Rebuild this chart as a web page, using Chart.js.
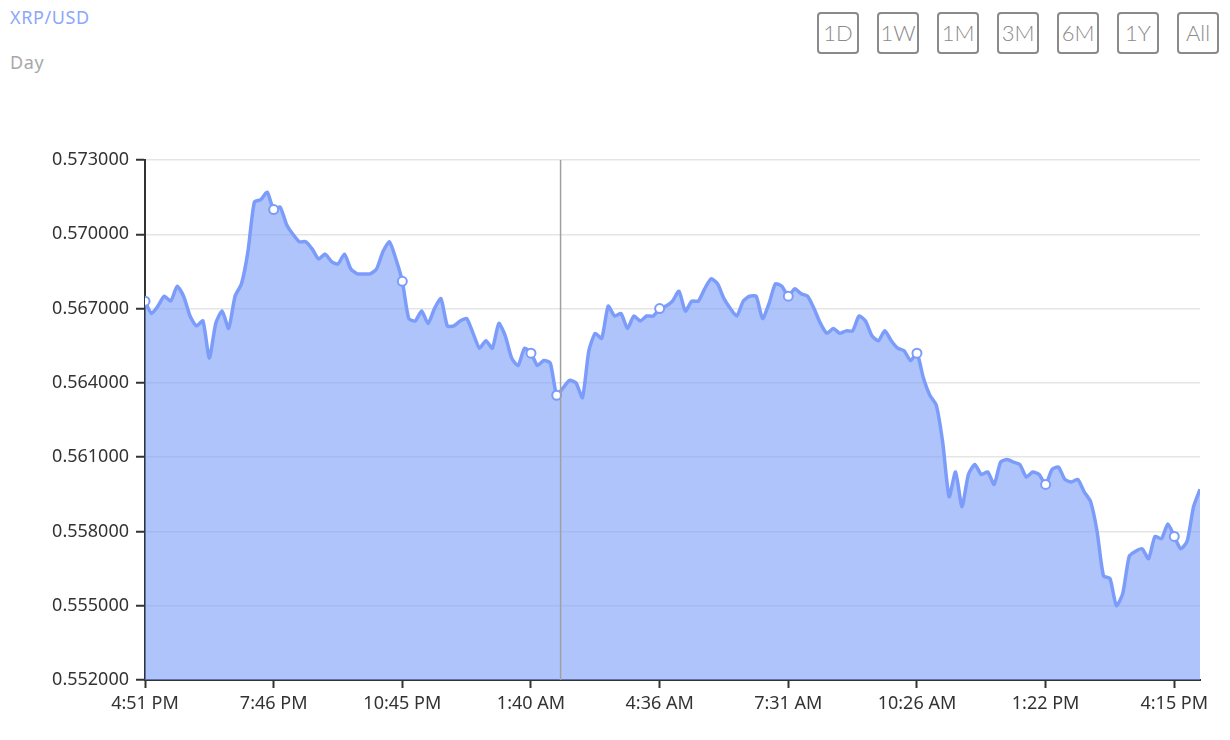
<!DOCTYPE html>
<html>
<head>
<meta charset="utf-8">
<script src="https://cdn.jsdelivr.net/npm/chart.js@4"></script>
<style>
  html, body { margin: 0; padding: 0; background: #fff; }
  body { width: 1230px; height: 740px; position: relative; overflow: hidden; font-family: "Noto Sans", "Open Sans", sans-serif; }
  #chart { position: absolute; left: 0; top: 0; }
  .pair { position: absolute; left: 10px; top: 5px; font-size: 18px; letter-spacing: 0.6px; color: #8ba7fa; }
  .range { position: absolute; left: 10px; top: 50px; font-size: 18px; letter-spacing: 0.6px; color: #a8a8a8; }
  .buttons { position: absolute; top: 12px; left: 817px; }
  .buttons span {
    position: absolute; top: 0; width: 38px; height: 38px;
    border: 2px solid #8a8a8a; border-radius: 4px;
    color: #8a8a8a; font-family: "Lato", "Open Sans", sans-serif; font-weight: 300;
    font-size: 22px; line-height: 38px; text-align: center;
  }
</style>
</head>
<body>
<div class="pair">XRP/USD</div>
<div class="range">Day</div>
<div class="buttons" id="buttons"></div>
<canvas id="chart" width="1230" height="740"></canvas>
<script>
// XRP/USD, one day, one reading every step
const prices = [
  0.5673, 0.5668, 0.5671, 0.5675, 0.5673, 0.5679, 0.5675, 0.5667, 0.5663, 0.5665,
  0.5650, 0.5664, 0.5669, 0.5662, 0.5675, 0.5680, 0.5693, 0.5713, 0.5714, 0.5717,
  0.5710, 0.5711, 0.5704, 0.5700, 0.5697, 0.5697, 0.5694, 0.5690, 0.5692, 0.5689,
  0.5688, 0.5692, 0.5686, 0.5684, 0.5684, 0.5684, 0.5686, 0.5693, 0.5697, 0.5690,
  0.5681, 0.5666, 0.5665, 0.5669, 0.5664, 0.5670, 0.5674, 0.5663, 0.5663, 0.5665,
  0.5666, 0.5660, 0.5654, 0.5657, 0.5654, 0.5664, 0.5659, 0.5650, 0.5647, 0.5654,
  0.5652, 0.5647, 0.5649, 0.5648, 0.5635, 0.5638, 0.5641, 0.5640, 0.5634, 0.5653,
  0.5660, 0.5658, 0.5671, 0.5667, 0.5668, 0.5662, 0.5667, 0.5665, 0.5667, 0.5667,
  0.5670, 0.5671, 0.5673, 0.5677, 0.5669, 0.5673, 0.5673, 0.5678, 0.5682, 0.5680,
  0.5674, 0.5670, 0.5667, 0.5673, 0.5675, 0.5675, 0.5666, 0.5672, 0.5680, 0.5679,
  0.5675, 0.5678, 0.5676, 0.5675, 0.5670, 0.5664, 0.5660, 0.5662, 0.5660, 0.5661,
  0.5661, 0.5667, 0.5665, 0.5659, 0.5657, 0.5661, 0.5657, 0.5654, 0.5653, 0.5649,
  0.5652, 0.5642, 0.5635, 0.5631, 0.5616, 0.5594, 0.5604, 0.5590, 0.5603, 0.5607,
  0.5603, 0.5604, 0.5599, 0.5608, 0.5609, 0.5608, 0.5607, 0.5602, 0.5604, 0.5603,
  0.5599, 0.5605, 0.5606, 0.5601, 0.5600, 0.5601, 0.5596, 0.5592, 0.5580, 0.5562,
  0.5561, 0.5550, 0.5555, 0.5570, 0.5572, 0.5573, 0.5569, 0.5578, 0.5577, 0.5583,
  0.5578, 0.5573, 0.5576, 0.5590, 0.5597
];
const timeLabels = ['4:51 PM', '7:46 PM', '10:45 PM', '1:40 AM', '4:36 AM', '7:31 AM', '10:26 AM', '1:22 PM', '4:15 PM'];
const timeTickIdx = [0, 20, 40, 60, 80, 100, 120, 140, 160];
const priceTicks = [0.552, 0.555, 0.558, 0.561, 0.564, 0.567, 0.570, 0.573];
const markerIdx = [0, 20, 40, 60, 64, 80, 100, 120, 140, 160];
const hoverAt = 64.6;
const rangeButtons = ['1D', '1W', '1M', '3M', '6M', '1Y', 'All'];

const btnBox = document.getElementById('buttons');
rangeButtons.forEach((b, i) => {
  const s = document.createElement('span');
  s.textContent = b;
  s.style.left = (i * 60) + 'px';
  btnBox.appendChild(s);
});

const lineColor = 'rgb(124,156,250)';
const axisFont = { family: '"Noto Sans", "Open Sans", sans-serif', size: 18 };

// grey crosshair where the pointer sits
const crosshair = {
  id: 'crosshair',
  afterDatasetsDraw(chart) {
    const { ctx, chartArea, scales } = chart;
    const x = scales.x.getPixelForValue(hoverAt);
    ctx.save();
    ctx.strokeStyle = '#a0a0a0';
    ctx.lineWidth = 1.5;
    ctx.beginPath();
    ctx.moveTo(x, chartArea.top);
    ctx.lineTo(x, chartArea.bottom);
    ctx.stroke();
    ctx.restore();
  }
};

new Chart(document.getElementById('chart').getContext('2d'), {
  type: 'line',
  data: {
    datasets: [{
      data: prices.map((p, i) => ({ x: i, y: p })),
      borderColor: lineColor,
      borderWidth: 3.5,
      backgroundColor: 'rgba(124,156,250,0.6)',
      fill: 'start',
      tension: 0.2,
      pointRadius: c => markerIdx.includes(c.dataIndex) ? 4.5 : 0,
      pointBackgroundColor: '#fff',
      pointBorderColor: lineColor,
      pointBorderWidth: 2,
    }]
  },
  options: {
    responsive: false,
    animation: false,
    layout: { padding: { left: 0, right: 30, top: 160, bottom: 0 } },
    plugins: { legend: false, tooltip: { enabled: false } },
    scales: {
      x: {
        type: 'linear',
        min: 0,
        max: prices.length - 1,
        afterBuildTicks: s => { s.ticks = timeTickIdx.map(v => ({ value: v })); },
        afterFit: s => { s.height = 60; },
        border: { color: '#333', width: 2 },
        grid: { drawOnChartArea: false, tickLength: 8, tickColor: '#333', tickWidth: 2 },
        ticks: {
          autoSkip: false, maxRotation: 0, padding: 5, color: '#333',
          font: axisFont,
          callback: v => timeLabels[timeTickIdx.indexOf(v)]
        }
      },
      y: {
        min: 0.552,
        max: 0.573,
        afterBuildTicks: s => { s.ticks = priceTicks.map(v => ({ value: v })); },
        afterFit: s => { s.width = 145; },
        border: { color: '#333', width: 2 },
        grid: { color: '#e5e5e5', lineWidth: 1.5, tickLength: 9, tickColor: '#333', tickWidth: 2 },
        ticks: {
          padding: 7, color: '#333',
          font: axisFont,
          callback: v => v.toFixed(6)
        }
      }
    }
  },
  plugins: [crosshair]
});
</script>
</body>
</html>
